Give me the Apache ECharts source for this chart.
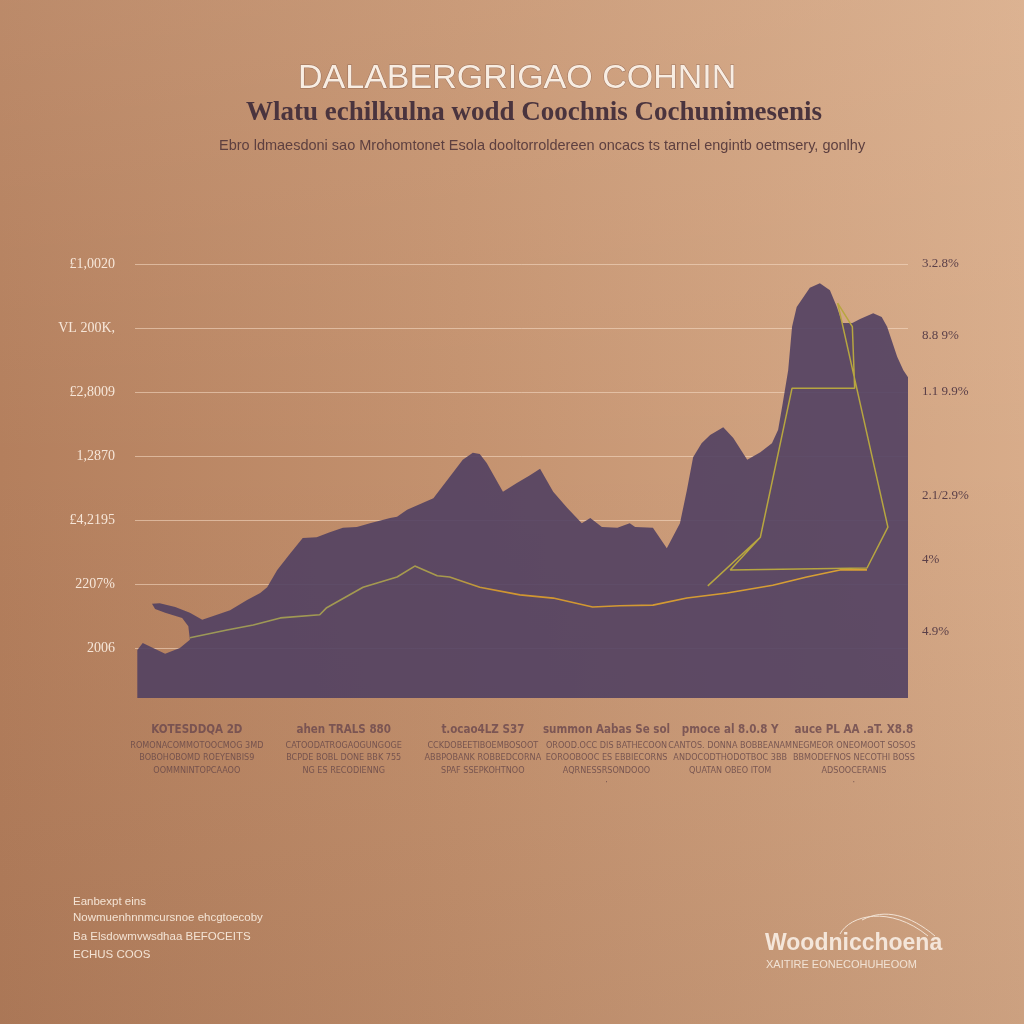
<!DOCTYPE html>
<html><head><meta charset="utf-8">
<script src="https://cdn.jsdelivr.net/npm/echarts@6.0.0/dist/echarts.min.js"></script>
<style>
html,body{margin:0;padding:0;}
#c{width:1024px;height:1024px;background:
 linear-gradient(180deg, rgba(255,236,215,0.10) 0%, rgba(255,236,215,0) 45%, rgba(60,25,10,0.08) 100%),
 linear-gradient(90deg, #b47f5d 0%, #c4926f 45%, #d8ac8a 100%);}
</style></head><body><div id="c"></div>
<script>
// ---- data ----
const leftTicks = ['', '2006', '2207%', '£4,2195', '1,2870', '£2,8009', 'VL 200K,', '£1,0020'];
const rightTickAt = [56, 47, 40, 27, 19, 10];
const rightTicks = ['3.2.8%', '8.8 9%', '1.1 9.9%', '2.1/2.9%', '4%', '4.9%'];

// outline of the filled range (x in 0..100, y in axis units)
const ridgeX = [0.3,0.3,1.0,3.9,5.8,7.1,6.9,6.1,3.9,2.6,2.2,3.2,5.2,7.1,8.7,10.6,12.3,14.5,16.2,17.1,18.4,20.1,21.7,23.5,25.2,26.9,28.7,30.4,33.0,33.9,35.2,36.9,38.6,40.7,42.4,43.7,44.6,45.5,47.6,49.4,51.1,52.4,54.1,55.9,57.8,58.9,60.4,62.4,64.0,64.7,67.0,68.8,70.5,71.4,72.2,73.3,74.4,76.1,77.4,79.2,80.9,82.4,83.2,83.8,84.5,85.0,85.6,87.3,88.6,89.9,90.8,91.5,92.8,93.8,95.5,96.6,97.3,98.6,99.4,100,100];
const ridgeY = [0.22,0.97,1.08,0.91,1.00,1.13,1.34,1.47,1.55,1.61,1.69,1.70,1.64,1.55,1.44,1.52,1.59,1.75,1.86,1.95,2.22,2.48,2.72,2.73,2.81,2.88,2.89,2.95,3.03,3.05,3.16,3.25,3.34,3.67,3.94,4.05,4.03,3.89,3.44,3.58,3.70,3.80,3.44,3.19,2.95,3.03,2.89,2.88,2.95,2.89,2.88,2.56,2.95,3.47,3.98,4.20,4.33,4.45,4.28,3.94,4.06,4.20,4.41,4.83,5.34,6.02,6.33,6.63,6.70,6.59,6.33,6.08,6.08,6.14,6.23,6.17,6.02,5.55,5.34,5.23,0.22];

// trend line
const trendX = [7.1,11.9,15.3,18.8,23.9,24.8,29.5,33.9,36.2,39.1,40.7,44.6,49.8,54.1,59.2,62.7,67.0,71.4,76.6,82.5,86.9,91.2,94.7];
const trendY = [1.16,1.28,1.36,1.47,1.52,1.63,1.95,2.11,2.28,2.13,2.11,1.95,1.83,1.78,1.64,1.66,1.67,1.78,1.86,1.98,2.11,2.22,2.22];

// frame line
const frameX = [74.1,80.9,85.0,93.1,92.8,90.9,97.4,94.7,77.0,80.9];
const frameY = [1.97,2.73,5.06,5.06,6.02,6.39,2.89,2.25,2.22,2.73];

// notes under the chart
const noteAt = [8, 27, 45, 61, 77, 93];
const noteHead = ['KOTESDDQA 2D', 'ahen TRALS 880', 't.ocao4LZ S37', 'summon Aabas Se sol', 'pmoce al 8.0.8 Y', 'auce PL AA .aT. X8.8'];
const noteBody = [
  ['ROMONACOMMOTOOCMOG 3MD', 'BOBOHOBOMD ROEYENBIS9', 'OOMMNINTOPCAAOO'],
  ['CATOODATROGAOGUNGOGE', 'BCPDE BOBL DONE BBK 755', 'NG ES RECODIENNG'],
  ['CCKDOBEETIBOEMBOSOOT', 'ABBPOBANK ROBBEDCORNA', 'SPAF SSEPKOHTNOO'],
  ['OROOD.OCC DIS BATHECOON', 'EOROOBOOC ES EBBIECORNS', 'AQRNESSRSONDOOO', '·'],
  ['CANTOS. DONNA BOBBEANAM', 'ANDOCODTHODOTBOC 3BB', 'QUATAN OBEO ITOM'],
  ['NEGMEOR ONEOMOOT SOSOS', 'BBMODEFNOS NECOTHI BOSS', 'ADSOOCERANIS', '·']
];
const footLines = ['Eanbexpt eins', 'Nowmuenhnnmcursnoe ehcgtoecoby', 'Ba Elsdowmvwsdhaa BEFOCEITS', 'ECHUS COOS'];

// ---- build ----
const rightCats = [];
for (let i = 0; i <= 56; i++) rightCats.push('');
rightTickAt.forEach((p, k) => { rightCats[p] = rightTicks[k]; });

const zip = (xs, ys) => xs.map((x, i) => [x, ys[i]]);
const noteData = noteAt.map((x, k) => ({
  value: [x, 0],
  label: {formatter: '{h|' + noteHead[k] + '}\n' + noteBody[k].map(s => '{t|' + s + '}').join('\n')}
}));
const condensed = "'DejaVu Sans Condensed', 'Liberation Sans Narrow', 'Liberation Sans'";

const chart = echarts.init(document.getElementById('c'), null, {renderer: 'canvas'});
chart.setOption({
  animation: false,
  backgroundColor: 'transparent',
  title: [
    {text: 'DALABERGRIGAO COHNIN', left: 293, top: 57,
     textStyle: {fontFamily: 'Liberation Sans', fontSize: 34, fontWeight: 'normal', color: '#f8ede2',
       textBorderColor: 'rgba(110,70,60,0.5)', textBorderWidth: 1}},
    {text: 'Wlatu echilkulna wodd Coochnis Cochunimesenis', left: 241, top: 95,
     textStyle: {fontFamily: 'Liberation Serif', fontSize: 27, fontWeight: 'bold', color: '#4a343e'}},
    {text: 'Ebro ldmaesdoni sao Mrohomtonet Esola dooltorroldereen oncacs ts tarnel engintb oetmsery, gonlhy', left: 214, top: 133,
     textStyle: {fontFamily: 'Liberation Sans', fontSize: 14.5, fontWeight: 'normal', color: '#5e4040'}}
  ],
  grid: {left: 135, right: 116, top: 264, bottom: 312, containLabel: false},
  xAxis: {type: 'value', min: 0, max: 100, axisLine: {show: false}, axisTick: {show: false},
     axisLabel: {show: false}, splitLine: {show: false}},
  yAxis: [
    {type: 'value', min: 0, max: 7, interval: 1, position: 'left',
     axisLine: {show: false}, axisTick: {show: false},
     axisLabel: {showMinLabel: false, margin: 20, formatter: v => leftTicks[Math.round(v)] || '',
       fontFamily: 'Liberation Serif', fontSize: 14, color: '#f6e6d8'},
     splitLine: {show: true, showMinLine: false, lineStyle: {color: 'rgba(248,222,200,0.55)', width: 1}}},
    {type: 'category', data: rightCats, boundaryGap: false, position: 'right',
     axisLine: {show: false}, axisTick: {show: false}, splitLine: {show: false},
     axisLabel: {interval: (i, v) => v !== '', margin: 14,
       fontFamily: 'Liberation Serif', fontSize: 13, color: '#5a3f48'}}
  ],
  series: [
    {type: 'custom', name: 'range', xAxisIndex: 0, yAxisIndex: 0, z: 2, data: [[0, 0]],
     renderItem: (params, api) => {
       const pts = ridgeX.map((x, i) => api.coord([x, ridgeY[i]]));
       return {type: 'polygon', shape: {points: pts}, style: {fill: 'rgba(81,64,98,0.9)'}};
     }},
    {type: 'line', name: 'trend', xAxisIndex: 0, yAxisIndex: 0, z: 3, data: zip(trendX, trendY),
     showSymbol: false, smooth: false,
     lineStyle: {width: 1.6, color: {type: 'linear', x: 0, y: 0, x2: 1, y2: 0,
       colorStops: [{offset: 0, color: '#9b9858'}, {offset: 0.38, color: '#a89a4c'}, {offset: 0.45, color: '#d09530'}, {offset: 1, color: '#d8a035'}]}}},
    {type: 'line', name: 'frame', xAxisIndex: 0, yAxisIndex: 0, z: 3, data: zip(frameX, frameY),
     showSymbol: false, smooth: false,
     lineStyle: {width: 1.5, color: '#b7a640'}},
    {type: 'scatter', name: 'notes', xAxisIndex: 0, yAxisIndex: 0, z: 4, symbolSize: 0, clip: false,
     data: noteData, silent: true,
     label: {show: true, position: 'bottom', distance: 10, align: 'center',
       rich: {
         h: {fontFamily: condensed, fontSize: 11.5, fontWeight: 'bold', color: '#6a474d', lineHeight: 17, align: 'center'},
         t: {fontFamily: condensed, fontSize: 9, color: '#654648', lineHeight: 12.5, align: 'center'}
       }}}
  ],
  graphic: [
    ...footLines.map((s, i) => ({type: 'text', left: 73, top: 896 + [0, 16, 35, 53][i],
      style: {text: s, fontFamily: 'Liberation Sans', fontSize: 11.5, fill: '#f3e3d4'}})),
    {type: 'text', left: 765, top: 932, style: {text: 'Woodnicchoena', fontFamily: 'Liberation Sans', fontSize: 23, fontWeight: 'bold', fill: '#f4e6da'}},
    {type: 'text', left: 766, top: 959, style: {text: 'XAITIRE EONECOHUHEOOM', fontFamily: 'Liberation Sans', fontSize: 11, fill: '#f1e2d4'}},
    {type: 'bezierCurve', shape: {x1: 840, y1: 934, cpx1: 850, cpy1: 915, cpx2: 890, cpy2: 905, x2: 928, y2: 936},
     style: {stroke: '#f1e2d4', lineWidth: 1, fill: null}},
    {type: 'bezierCurve', shape: {x1: 862, y1: 920, cpx1: 885, cpy1: 908, cpx2: 910, cpy2: 915, x2: 935, y2: 936},
     style: {stroke: '#f1e2d4', lineWidth: 1, fill: null}}
  ]
});
</script></body></html>
